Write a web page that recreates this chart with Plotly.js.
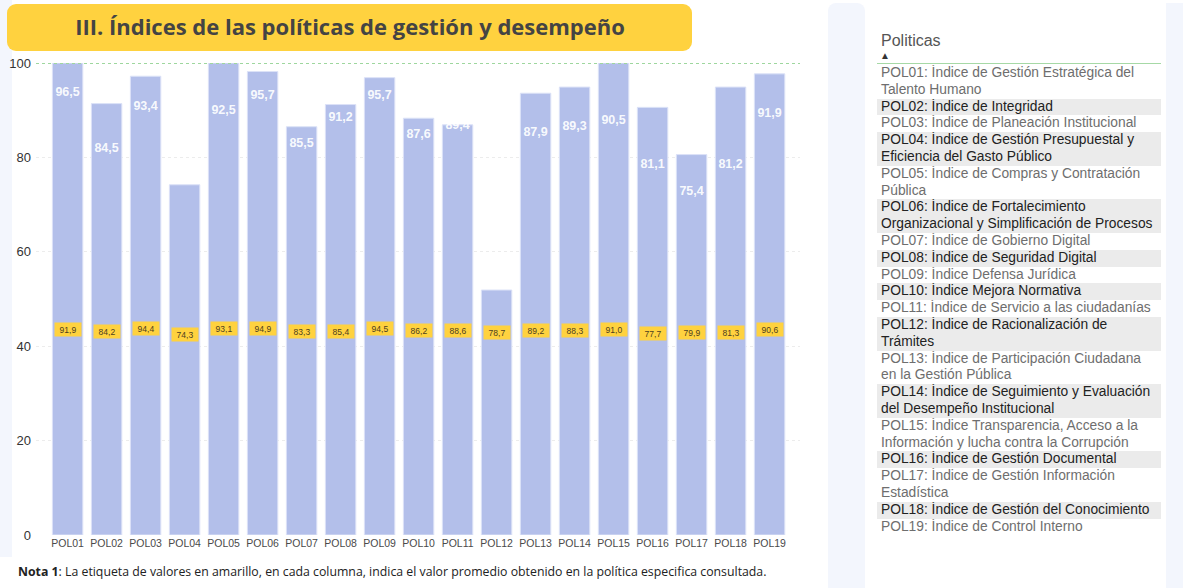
<!DOCTYPE html>
<html>
<head>
<meta charset="utf-8">
<script src="https://cdn.plot.ly/plotly-3.0.1.min.js"></script>
<style>
  html, body { margin:0; padding:0; }
  body { width:1183px; height:588px; position:relative; overflow:hidden; background:#ffffff; font-family:"Liberation Sans", Arial, sans-serif; }
  .strip { position:absolute; background:#F3F6FD; }
  #titlebox { position:absolute; left:7px; top:4px; width:685px; height:47px; background:#FFD23F; border-radius:9px; }
  #chart { position:absolute; left:0; top:0; width:830px; height:588px; }
  #panel { position:absolute; left:877px; top:31px; width:284px; }
  #panel .ptitle { font-size:16px; color:#555; padding-left:4px; line-height:19px; }
  #panel .arrow { font-size:10px; color:#333; padding-left:3px; line-height:12px; height:13px; }
  #panel .rule { border-top:1px solid #A6D9A6; margin-bottom:1px; }
  #panel .row { font-size:13.8px; line-height:16.8px; padding:0 0 0 4px; color:#6E6E6E; white-space:pre; overflow:hidden; }
  #panel .row.alt { background:#EBEBEB; color:#222; }
</style>
</head>
<body>
<div class="strip" style="left:0;top:0;width:12px;height:557px;"></div>
<div class="strip" style="left:828px;top:3px;width:37px;height:585px;border-radius:8px 8px 0 0;"></div>
<div class="strip" style="left:1166px;top:3px;width:17px;height:585px;"></div>
<div id="titlebox"></div>
<div id="chart"></div>
<div id="panel"></div>
<script>
const categories = ['POL01','POL02','POL03','POL04','POL05','POL06','POL07','POL08','POL09','POL10',
                    'POL11','POL12','POL13','POL14','POL15','POL16','POL17','POL18','POL19'];
const barValues = [100, 91.4, 97.2, 74.2, 100, 98.2, 86.5, 91.2, 96.9, 88.3,
                   86.9, 51.9, 93.6, 94.9, 100, 90.6, 80.6, 94.9, 97.7];
const innerLabels = [96.5, 84.5, 93.4, null, 92.5, 95.7, 85.5, 91.2, 95.7, 87.6,
                     89.4, null, 87.9, 89.3, 90.5, 81.1, 75.4, 81.2, 91.9];
const averages = [91.9, 84.2, 94.4, 74.3, 93.1, 94.9, 83.3, 85.4, 94.5, 86.2,
                  88.6, 78.7, 89.2, 88.3, 91.0, 77.7, 79.9, 81.3, 90.6];
const targetValue = 100;
const policyNames = [
  'Índice de Gestión Estratégica del\nTalento Humano',
  'Índice de Integridad',
  'Índice de Planeación Institucional',
  'Índice de Gestión Presupuestal y\nEficiencia del Gasto Público',
  'Índice de Compras y Contratación\nPública',
  'Índice de Fortalecimiento\nOrganizacional y Simplificación de Procesos',
  'Índice de Gobierno Digital',
  'Índice de Seguridad Digital',
  'Índice Defensa Jurídica',
  'Índice Mejora Normativa',
  'Índice de Servicio a las ciudadanías',
  'Índice de Racionalización de\nTrámites',
  'Índice de Participación Ciudadana\nen la Gestión Pública',
  'Índice de Seguimiento y Evaluación\ndel Desempeño Institucional',
  'Índice Transparencia, Acceso a la\nInformación y lucha contra la Corrupción',
  'Índice de Gestión Documental',
  'Índice de Gestión Información\nEstadística',
  'Índice de Gestión del Conocimiento',
  'Índice de Control Interno'
];
const chartTitle = 'III. Índices de las políticas de gestión y desempeño';
const noteText = '<b>Nota 1</b>: La etiqueta de valores en amarillo, en cada columna, indica el valor promedio obtenido en la política especifica consultada.';

const fmt = v => v.toFixed(1).replace('.', ',');

const traces = [
  {
    type: 'bar', x: categories, y: barValues,
    marker: { color: '#B3BFEA', line: { color: '#DCE2F7', width: 1 } },
    hoverinfo: 'skip'
  },
  {
    type: 'scatter', mode: 'markers+text', x: categories, y: innerLabels,
    marker: { size: 9, opacity: 0 },
    texttemplate: '%{y:.1f}', textposition: 'bottom center',
    textfont: { color: 'rgba(255,255,255,0.93)', size: 12.5, family: 'Liberation Sans, Arial, sans-serif', weight: 'bold' },
    hoverinfo: 'skip', cliponaxis: false
  },
  {
    type: 'scatter', mode: 'markers', x: categories, y: averages, yaxis: 'y2',
    marker: { opacity: 0, size: 1 }, hoverinfo: 'skip'
  }
];

const annotations = categories.map((c, i) => ({
  x: c, y: averages[i], xref: 'x', yref: 'y2',
  text: fmt(averages[i]), showarrow: false,
  bgcolor: '#FFD23F', borderpad: 1, width: 24, height: 11,
  font: { size: 8.5, color: '#4E4020', family: 'Liberation Sans, Arial, sans-serif' }
}));
annotations.push({
  xref: 'paper', yref: 'paper', x: -0.026, y: -0.0763, xanchor: 'left', yanchor: 'middle',
  text: noteText, showarrow: false, align: 'left',
  font: { size: 12.3, color: '#222', family: 'Open Sans, sans-serif' }
});

const layout = {
  width: 830, height: 588,
  margin: { l: 36, r: 30, t: 63, b: 53 },
  paper_bgcolor: 'rgba(0,0,0,0)', plot_bgcolor: 'rgba(0,0,0,0)',
  separators: ',.',
  showlegend: false,
  bargap: 0.22,
  title: {
    text: '<b>' + chartTitle + '</b>',
    x: 0.4217, xanchor: 'center', y: 0.954, yanchor: 'middle',
    font: { family: 'Open Sans, sans-serif', size: 22, color: '#444444' }
  },
  xaxis: {
    range: [-0.81, 18.78], fixedrange: true, showgrid: false, zeroline: false,
    tickfont: { size: 10.5, color: '#4A4A4A', family: 'Liberation Sans, Arial, sans-serif' },
    ticks: ''
  },
  yaxis: {
    range: [0, 100], dtick: 20, tick0: 0, fixedrange: true,
    showgrid: true, gridcolor: '#ECECEC', griddash: 'dot', gridwidth: 1, zeroline: false,
    tickfont: { size: 13, color: '#333', family: 'Liberation Sans, Arial, sans-serif' },
    ticks: '', ticklabelstandoff: 4
  },
  yaxis2: {
    overlaying: 'y', range: [-643, 1043], visible: false, fixedrange: true
  },
  shapes: [{
    type: 'line', xref: 'paper', x0: 0, x1: 1, yref: 'y', y0: targetValue, y1: targetValue,
    line: { color: '#9ED79E', width: 2, dash: 'dot' }, layer: 'above'
  }],
  annotations: annotations
};

Plotly.newPlot('chart', traces, layout, { displayModeBar: false, staticPlot: true });

const panel = document.getElementById('panel');
let html = '<div class="ptitle">Politicas</div><div class="arrow">▲</div><div class="rule"></div>';
categories.forEach((c, i) => {
  html += '<div class="row' + (i % 2 === 1 ? ' alt' : '') + '">' + c + ': ' + policyNames[i] + '</div>';
});
panel.innerHTML = html;
</script>
</body>
</html>
